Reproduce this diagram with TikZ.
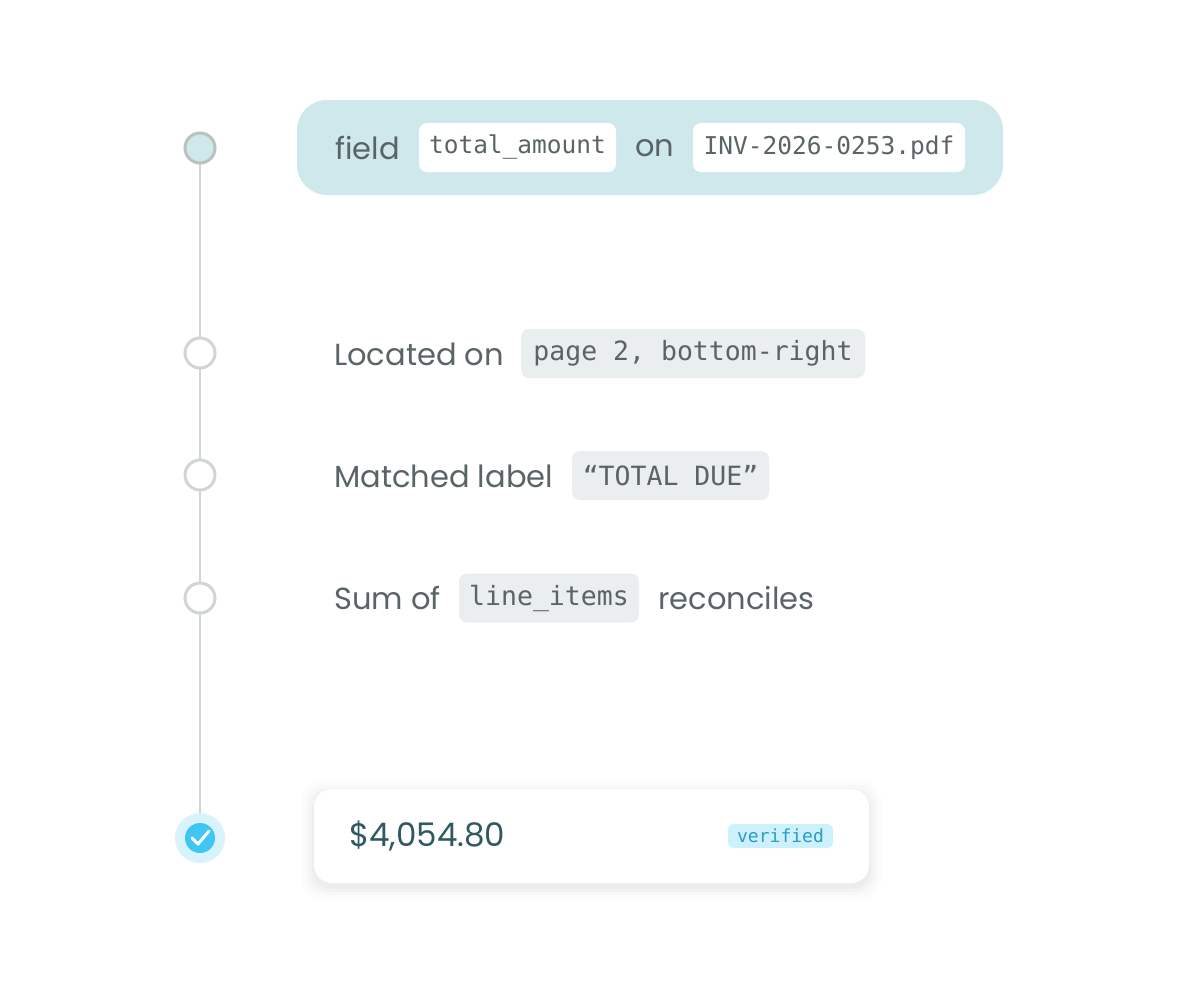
\documentclass[tikz,border=0pt]{standalone}
\usepackage{fontspec}
\setmainfont{Poppins}
\newfontfamily\monof{DejaVu Sans Mono}
\definecolor{txt}{HTML}{5A6466}
\definecolor{linec}{HTML}{D0D5D5}
\definecolor{topbg}{HTML}{CFE8EC}
\definecolor{chipg}{HTML}{EBEEEE}
\definecolor{amt}{HTML}{2F5A62}
\definecolor{badge}{HTML}{CDF0FD}
\definecolor{badget}{HTML}{2A9CC6}
\definecolor{halo}{HTML}{D8F3FC}
\definecolor{dot}{HTML}{3FC6F4}
\begin{document}
\begin{tikzpicture}[x=1pt,y=-1pt,
  lbl/.style={anchor=west,inner sep=0,text=txt,font=\fontsize{30.5}{34}\selectfont},
  chip/.style={rounded corners=8pt,inner sep=0,text=txt,font=\monof\fontsize{26.5}{30}\selectfont,minimum height=49pt},
  stepdot/.style={circle,draw=linec,line width=3pt,fill=white,minimum size=30pt,inner sep=0}]
\useasboundingbox[fill=white] (0,0) rectangle (1178,983);
\draw[linec,line width=2pt] (200,148) -- (200,838);
\node[stepdot,fill=topbg,draw=linec!90!black] (s1) at (200,148) {};
\node[stepdot] (s2) at (200,353) {};
\node[stepdot] (s3) at (200,475) {};
\node[stepdot] (s4) at (200,598) {};
\fill[halo] (200,838) circle (25);
\node[circle,fill=dot,minimum size=30pt,inner sep=0] (s5) at (200,838) {};
\draw[white,line width=3pt,line cap=round,line join=round] (192,838) -- (198,844) -- (209,831);
% top box
\node[fill=topbg,rounded corners=30pt,minimum width=706pt,minimum height=95pt,inner sep=0] (top) at (650,147.5) {};
\node[lbl] (t1) at (335,148) {field};
\node[chip,fill=white,minimum width=197pt,font=\monof\fontsize{24.5}{28}\selectfont] (c1) at (517.5,147.5) {total\_amount};
\node[lbl] (t2) at (635,148) {on};
\node[chip,fill=white,minimum width=272pt,font=\monof\fontsize{24.5}{28}\selectfont] (c2) at (829,147.5) {INV-2026-0253.pdf};
% rows
\node[lbl] (r2) at (334,354) {Located on};
\node[chip,fill=chipg,minimum width=344pt] (c3) at (693,353.5) {page 2, bottom-right};
\node[lbl] (r3) at (334,476) {Matched label};
\node[chip,fill=chipg,minimum width=197pt] (c4) at (670.5,475.5) {“TOTAL DUE”};
\node[lbl] (r4) at (334,598) {Sum of};
\node[chip,fill=chipg,minimum width=180pt] (c5) at (549,598) {line\_items};
\node[lbl] (r4b) at (658,598) {reconciles};
% card with soft shadow
\foreach \s/\o in {12/0.01,8/0.015,5/0.02,2/0.025}
  \fill[black,opacity=\o,rounded corners=20pt] (314-\s,789-\s+4) rectangle (869+\s,883+\s+4);
\node[fill=white,rounded corners=18pt,minimum width=555pt,minimum height=94pt,inner sep=0] (card) at (591.5,836) {};
\node[anchor=west,inner sep=0,text=amt,font=\fontsize{32.5}{36}\selectfont] (amt) at (349,836) {\$4,054.80};
\node[fill=badge,rounded corners=6pt,inner sep=0,minimum width=105pt,minimum height=24pt,text=badget,font=\monof\fontsize{18}{20}\selectfont] (b) at (780.5,836) {verified};
\end{tikzpicture}
\end{document}
